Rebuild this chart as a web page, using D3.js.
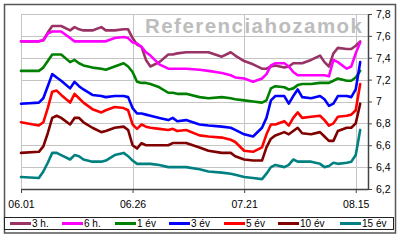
<!DOCTYPE html>
<html>
<head>
<meta charset="utf-8">
<script src="https://cdn.jsdelivr.net/npm/d3@7"></script>
<style>
  body { margin: 0; background: #fff; }
  svg { display: block; font-family: Arial, "Liberation Sans", sans-serif; }
</style>
</head>
<body>
<div id="chart"></div>
<script>
// dates of the sampled points (2007)
const dates = ["2007-06-01","2007-06-05","2007-06-06","2007-06-07","2007-06-08","2007-06-09","2007-06-10",
  "2007-06-12","2007-06-13","2007-06-14","2007-06-15","2007-06-17","2007-06-19","2007-06-20","2007-06-22",
  "2007-06-24","2007-06-25","2007-06-26","2007-06-27","2007-06-28","2007-06-29","2007-06-30","2007-07-02",
  "2007-07-04","2007-07-05","2007-07-06","2007-07-08","2007-07-11","2007-07-13","2007-07-16","2007-07-18",
  "2007-07-19","2007-07-21","2007-07-23","2007-07-25","2007-07-26","2007-07-27","2007-07-28","2007-07-30",
  "2007-07-31","2007-08-01","2007-08-02","2007-08-03","2007-08-05","2007-08-07","2007-08-08","2007-08-09",
  "2007-08-10","2007-08-11","2007-08-13","2007-08-14","2007-08-15","2007-08-16"];

const h3 = [7.55,7.55,7.56,7.63,7.69,7.69,7.69,7.65,7.68,7.66,7.65,7.65,7.68,7.65,7.65,7.66,7.66,7.58,7.52,7.50,
  7.38,7.32,7.36,7.43,7.43,7.44,7.45,7.45,7.45,7.41,7.45,7.42,7.37,7.34,7.30,7.30,7.32,7.33,7.31,7.32,
  7.35,7.35,7.35,7.38,7.42,7.36,7.32,7.44,7.49,7.48,7.48,7.51,7.55];
const h6 = [7.55,7.55,7.56,7.62,7.64,7.64,7.64,7.58,7.55,7.55,7.55,7.55,7.55,7.55,7.58,7.59,7.58,7.54,7.53,7.50,
  7.45,7.42,7.34,7.30,7.30,7.30,7.30,7.29,7.28,7.26,7.24,7.22,7.21,7.18,7.21,7.25,7.33,7.35,7.35,7.32,
  7.27,7.24,7.24,7.24,7.24,7.24,7.23,7.38,7.36,7.30,7.32,7.44,7.54];
const y1 = [7.28,7.28,7.31,7.37,7.43,7.43,7.43,7.36,7.38,7.35,7.33,7.31,7.30,7.29,7.32,7.35,7.32,7.27,7.18,7.17,
  7.17,7.16,7.13,7.08,7.08,7.07,7.07,7.04,7.03,7.04,7.03,7.02,7.01,7.00,6.99,7.01,7.12,7.14,7.13,7.11,
  7.12,7.15,7.16,7.16,7.17,7.17,7.17,7.19,7.21,7.19,7.19,7.22,7.28];
const y3 = [6.98,6.99,7.03,7.14,7.25,7.22,7.19,7.12,7.18,7.14,7.11,7.06,7.05,7.04,7.05,7.05,7.04,6.94,6.89,6.89,
  6.88,6.87,6.85,6.83,6.85,6.82,6.83,6.79,6.78,6.77,6.76,6.74,6.70,6.68,6.76,6.85,7.01,7.05,7.05,6.98,
  7.05,7.11,7.04,7.03,7.05,7.02,6.96,6.98,7.05,7.05,7.04,7.11,7.36];
const y5 = [6.81,6.78,6.81,6.94,7.09,7.10,7.06,6.99,7.07,7.03,6.99,6.93,6.90,6.92,6.95,6.94,6.92,6.79,6.75,6.79,
  6.77,6.76,6.75,6.74,6.75,6.73,6.74,6.69,6.68,6.67,6.65,6.63,6.55,6.54,6.58,6.70,6.79,6.79,6.82,6.78,
  6.85,6.90,6.85,6.86,6.87,6.83,6.78,6.80,6.86,6.87,6.88,6.92,7.16];
const y10 = [6.53,6.54,6.59,6.71,6.85,6.87,6.85,6.79,6.85,6.85,6.81,6.76,6.72,6.73,6.76,6.77,6.74,6.60,6.57,6.62,
  6.60,6.60,6.60,6.60,6.62,6.62,6.62,6.58,6.55,6.53,6.53,6.50,6.47,6.46,6.46,6.58,6.66,6.69,6.72,6.70,
  6.73,6.76,6.71,6.70,6.72,6.68,6.64,6.64,6.73,6.76,6.76,6.80,6.98];
const y15 = [6.31,6.30,6.36,6.44,6.53,6.53,6.51,6.47,6.51,6.50,6.47,6.45,6.45,6.46,6.51,6.53,6.50,6.46,6.43,6.43,
  6.43,6.43,6.42,6.40,6.40,6.40,6.40,6.38,6.36,6.35,6.34,6.33,6.31,6.30,6.29,6.34,6.40,6.42,6.40,6.42,
  6.47,6.45,6.45,6.45,6.43,6.40,6.41,6.44,6.43,6.44,6.45,6.51,6.74];

const seriesNames = ["3 h.", "6 h.", "1 év", "3 év", "5 év", "10 év", "15 év"];
const seriesValues = [h3, h6, y1, y3, y5, y10, y15];
const seriesColors = ["#993366", "#ff00ff", "#008000", "#0000ff", "#ff0000", "#800000", "#008080"];

const xTickDates = ["2007-06-01", "2007-06-26", "2007-07-21", "2007-08-15"];
const xTickLabels = ["06.01", "06.26", "07.21", "08.15"];
const yTicks = [6.2, 6.4, 6.6, 6.8, 7.0, 7.2, 7.4, 7.6, 7.8];
const yTickLabels = ["6,2", "6,4", "6,6", "6,8", "7", "7,2", "7,4", "7,6", "7,8"];

const W = 400, H = 242;
const parse = d3.utcParse("%Y-%m-%d");

const svg = d3.select("#chart").append("svg")
    .attr("width", W)
    .attr("height", H);

// chart frame
svg.append("rect")
    .attr("x", 4.5).attr("y", 4.5)
    .attr("width", 391).attr("height", 228.5)
    .attr("fill", "#fff")
    .attr("stroke", "#555")
    .attr("stroke-width", 1.5);

// scales (plot area 21..368 x 14..189)
const x = d3.scaleUtc()
    .domain([parse("2007-06-01"), new Date(Date.UTC(2007, 7, 17, 18))])
    .range([21, 368]);
const y = d3.scaleLinear()
    .domain([6.2, 7.8])
    .range([189, 14]);

// gridlines
const grid = svg.append("g").attr("stroke", "#c4c4c4").attr("stroke-width", 1);
grid.selectAll(".hg").data(yTicks).enter().append("line")
    .attr("x1", 21).attr("x2", 368)
    .attr("y1", d => Math.round(y(d)) + 0.5).attr("y2", d => Math.round(y(d)) + 0.5);
grid.selectAll(".vg").data(xTickDates).enter().append("line")
    .attr("x1", d => Math.round(x(parse(d))) + 0.5).attr("x2", d => Math.round(x(parse(d))) + 0.5)
    .attr("y1", 14).attr("y2", 189);

// watermark title
svg.append("text")
    .attr("x", 145).attr("y", 32.5)
    .attr("font-size", 20.5)
    .attr("font-weight", "bold")
    .attr("fill", "#bdbdbd")
    .attr("textLength", 217)
    .attr("lengthAdjust", "spacing")
    .text("Referenciahozamok");

// series lines
const line = d3.line()
    .x((d, i) => x(parse(dates[i])))
    .y(d => y(d));
svg.append("g").selectAll("path")
    .data(seriesValues)
    .enter()
    .append("path")
    .attr("d", d => line(d))
    .attr("fill", "none")
    .attr("stroke", (d, i) => seriesColors[i])
    .attr("stroke-width", 2.6)
    .attr("stroke-linejoin", "round")
    .attr("stroke-linecap", "round");

// right y axis
const yAxis = svg.append("g")
    .attr("transform", "translate(368,0)")
    .call(d3.axisRight(y)
        .tickValues(yTicks)
        .tickSize(4)
        .tickSizeOuter(0)
        .tickPadding(4)
        .tickFormat((d, i) => yTickLabels[i]));
yAxis.select(".domain").attr("stroke", "#444").attr("stroke-width", 1.5);
yAxis.selectAll(".tick line").attr("stroke", "#444");
yAxis.selectAll("text").attr("font-size", 10.5).attr("fill", "#000").attr("font-family", null);

// bottom x axis
const xAxis = svg.append("g")
    .attr("transform", "translate(0,189)")
    .call(d3.axisBottom(x)
        .tickValues(xTickDates.map(parse))
        .tickSize(4)
        .tickSizeOuter(0)
        .tickPadding(8)
        .tickFormat((d, i) => xTickLabels[i]));
xAxis.select(".domain").attr("stroke", "#444").attr("stroke-width", 1.5);
xAxis.selectAll(".tick line").attr("stroke", "#444");
xAxis.selectAll("text").attr("font-size", 10.5).attr("fill", "#000").attr("font-family", null);

// legend
svg.append("rect")
    .attr("x", 4.5).attr("y", 217.5)
    .attr("width", 389).attr("height", 12)
    .attr("fill", "#fff")
    .attr("stroke", "#222")
    .attr("stroke-width", 1);

const legendX = [10, 62, 115, 169, 224, 278, 340];
const legend = svg.append("g").selectAll("g")
    .data(seriesNames)
    .enter()
    .append("g")
    .attr("transform", (d, i) => `translate(${legendX[i]},223.5)`);
legend.append("line")
    .attr("x1", 0).attr("x2", 21)
    .attr("stroke", (d, i) => seriesColors[i])
    .attr("stroke-width", 3);
legend.append("text")
    .attr("x", 22).attr("y", 3.5)
    .attr("font-size", 10)
    .text(d => d);
</script>
</body>
</html>
